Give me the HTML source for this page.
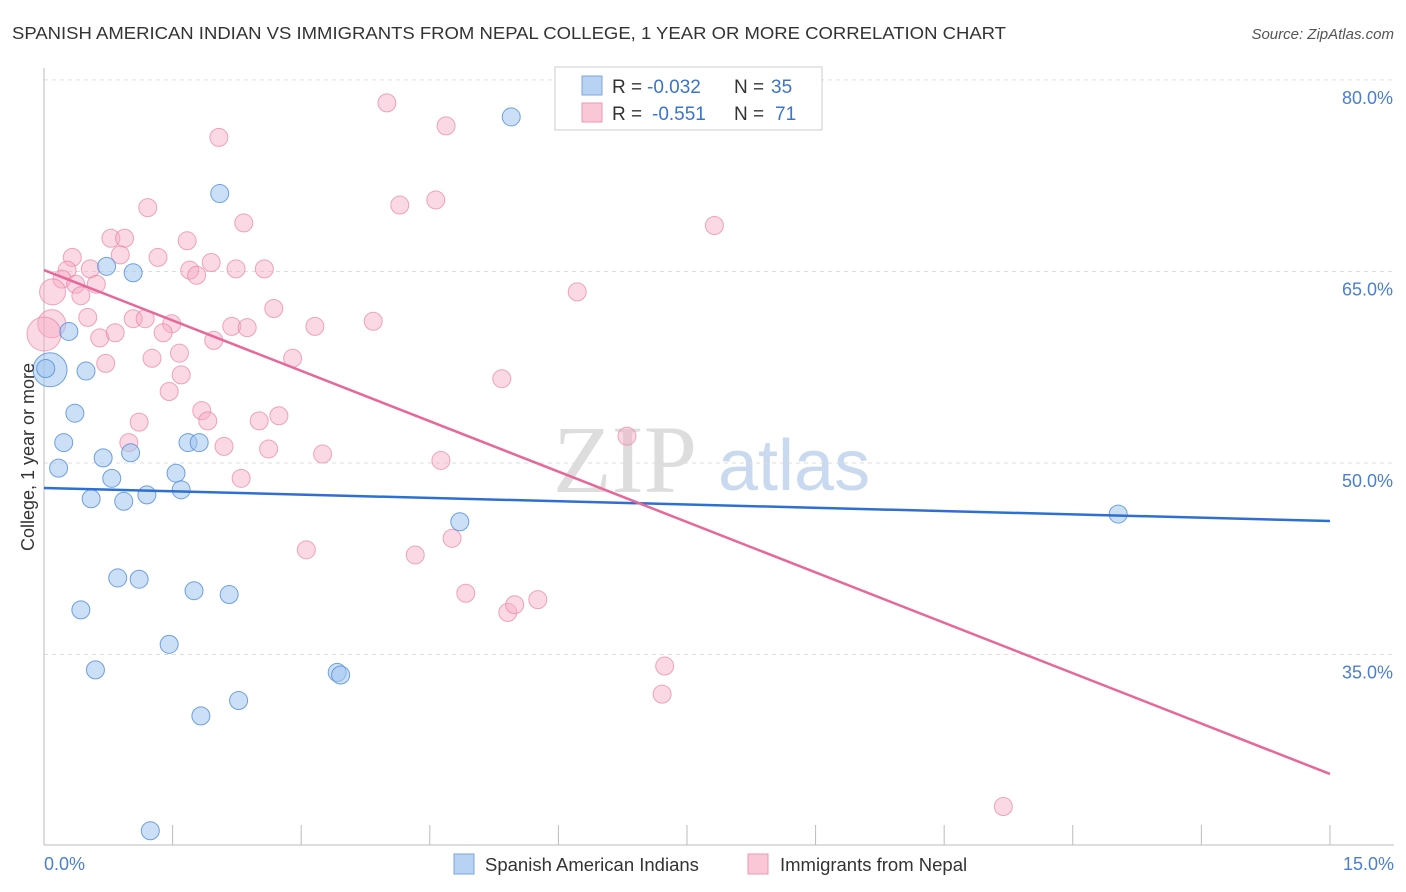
<!DOCTYPE html>
<html><head><meta charset="utf-8"><style>
body{margin:0;background:#fff;font-family:"Liberation Sans",sans-serif;}
svg{display:block}
</style></head><body>
<svg id="chart" width="1406" height="892" xmlns="http://www.w3.org/2000/svg">
<text x="12" y="39" font-size="17.5" fill="#333" textLength="994" lengthAdjust="spacingAndGlyphs">SPANISH AMERICAN INDIAN VS IMMIGRANTS FROM NEPAL COLLEGE, 1 YEAR OR MORE CORRELATION CHART</text>
<text x="1394" y="39" font-size="15" fill="#555" text-anchor="end" font-style="italic">Source: ZipAtlas.com</text>
<g>
<text x="553" y="492" font-size="96" fill="#ddd" font-family="Liberation Serif,serif">ZIP</text>
<text x="718" y="490" font-size="72" fill="#c9d9ef">atlas</text>
</g>
<g id="grid"></g>
<g id="axes"></g>
<g id="points"></g>
<g id="lines"></g>
<text transform="translate(34,457) rotate(-90)" font-size="18" fill="#333" text-anchor="middle">College, 1 year or more</text>
<text x="44" y="870" font-size="18" fill="#4a7fd0">0.0%</text>
<text x="1394" y="870" font-size="18" fill="#4a7fd0" text-anchor="end">15.0%</text>
<g>
<rect x="555" y="67" width="267" height="63" fill="#fff" stroke="#ccc"/>
<rect x="582" y="76" width="20" height="19" fill="#b8d2f4" stroke="#7aa4dd"/>
<rect x="582" y="103" width="20" height="19" fill="#f9c7d6" stroke="#eb9ab3"/>
<text x="612" y="93" font-size="19" fill="#333">R =</text>
<text x="647" y="93" font-size="19" fill="#3a73d0">-0.032</text>
<text x="734" y="93" font-size="19" fill="#333">N =</text>
<text x="771" y="93" font-size="19" fill="#3a73d0">35</text>
<text x="612" y="120" font-size="19" fill="#333">R =</text>
<text x="652" y="120" font-size="19" fill="#3a73d0">-0.551</text>
<text x="734" y="120" font-size="19" fill="#333">N =</text>
<text x="775" y="120" font-size="19" fill="#3a73d0">71</text>
</g>
<g>
<rect x="454" y="854" width="20" height="20" fill="#b8d2f4" stroke="#7aa4dd"/>
<text x="485" y="871" font-size="18.5" fill="#333">Spanish American Indians</text>
<rect x="748" y="854" width="20" height="20" fill="#f9c7d6" stroke="#eb9ab3"/>
<text x="780" y="871" font-size="18.5" fill="#333">Immigrants from Nepal</text>
</g>
</svg>
<script>
const yTicks=[35,50,65,80];
const xTicks=[0,1.5,3,4.5,6,7.5,9,10.5,12,13.5,15];
const blueX=[5.45,2.05,0.73,1.04,0.29,0.07,0.49,0.36,0.23,1.01,0.69,0.17,0.79,1.54,1.68,1.81,0.55,0.93,1.2,1.6,4.85,12.53,0.86,1.11,0.43,1.75,2.16,1.46,0.6,3.42,3.46,1.83,2.27,1.24,0.02];
const blueY=[77.1,71.1,65.4,64.9,60.3,57.3,57.2,53.9,51.6,50.8,50.4,49.6,48.8,49.2,51.6,51.6,47.2,47.0,47.5,47.9,45.4,46.0,41.0,40.9,38.5,40.0,39.7,35.8,33.8,33.6,33.4,30.2,31.4,21.2,57.4];
const blueR=[9,9,9,9,9,17,9,9,9,9,9,9,9,9,9,9,9,9,9,9,9,9,9,9,9,9,9,9,9,9,9,9,9,9,9];
const pinkX=[4.0,2.04,4.69,4.15,4.57,7.82,1.21,2.33,0.78,0.94,1.67,1.33,0.33,0.89,1.95,0.54,1.70,2.24,2.57,1.78,0.27,0.21,0.37,0.61,0.43,0.1,6.22,2.68,0.51,1.04,1.18,1.49,2.19,2.37,3.16,3.84,0.09,0.0,0.65,0.83,1.39,1.98,1.58,2.90,1.26,0.72,1.60,5.34,1.46,1.84,1.91,1.11,2.51,2.74,0.99,2.10,2.62,3.25,4.63,6.80,2.30,3.06,4.33,4.76,4.92,5.41,5.49,5.76,7.24,7.21,11.19];
const pinkY=[78.2,75.5,76.4,70.2,70.6,68.6,70.0,68.8,67.6,67.6,67.4,66.1,66.1,66.3,65.7,65.2,65.1,65.2,65.2,64.7,65.1,64.4,64.0,64.0,63.1,63.4,63.4,62.1,61.4,61.3,61.3,60.9,60.7,60.6,60.7,61.1,60.9,60.1,59.8,60.2,60.2,59.6,58.6,58.2,58.2,57.8,56.9,56.6,55.6,54.1,53.3,53.2,53.3,53.7,51.6,51.3,51.1,50.7,50.2,52.1,48.8,43.2,42.8,44.1,39.8,38.3,38.9,39.3,34.1,31.9,23.1];
const pinkR=[9,9,9,9,9,9,9,9,9,9,9,9,9,9,9,9,9,9,9,9,9,9,9,9,9,13,9,9,9,9,9,9,9,9,9,9,14,17,9,9,9,9,9,9,9,9,9,9,9,9,9,9,9,9,9,9,9,9,9,9,9,9,9,9,9,9,9,9,9,9,9];
const blueTrend=[48.04,45.46];
const pinkTrend=[65.11,25.65];
const X=v=>44+v*85.73, Y=v=>463-(v-50)*12.77;
const NS="http://www.w3.org/2000/svg";
function mk(t,a,p){const e=document.createElementNS(NS,t);for(const k in a)e.setAttribute(k,a[k]);p.appendChild(e);return e;}
const grid=document.getElementById('grid'),axes=document.getElementById('axes'),pts=document.getElementById('points'),lines=document.getElementById('lines');
yTicks.forEach(v=>{
 const l=mk('line',{x1:44,x2:1394,y1:Y(v),y2:Y(v),stroke:'#ddd','stroke-dasharray':'4,4'},grid);
 
 
 const t=mk('text',{x:1393,y:Y(v)+24,'font-size':18,fill:'#4a7fd0','text-anchor':'end'},grid);
 t.textContent=v.toFixed(1)+'%';
 
 
});
const ya=mk('line',{x1:44,x2:44,y1:68,y2:845,stroke:'#bbb'},axes);


const xa=mk('line',{x1:44,x2:1394,y1:845,y2:845,stroke:'#bbb'},axes);


xTicks.forEach(v=>{
 const t=mk('line',{x1:X(v),x2:X(v),y1:825,y2:845,stroke:'#bbb'},axes);
 
 
});
pinkX.forEach((x,i)=>{
 const c=mk('circle',{cx:X(x),cy:Y(pinkY[i]),r:pinkR[i],fill:'rgba(246,170,195,0.45)',stroke:'rgba(232,130,165,0.7)','stroke-width':1},pts);
 
 
});
blueX.forEach((x,i)=>{
 const c=mk('circle',{cx:X(x),cy:Y(blueY[i]),r:blueR[i],fill:'rgba(160,196,240,0.55)',stroke:'rgba(80,140,215,0.8)','stroke-width':1},pts);
 
 
});
const bl=mk('line',{x1:X(0),y1:Y(blueTrend[0]),x2:X(15),y2:Y(blueTrend[1]),stroke:'#2e6fd4','stroke-width':2.5},lines);


const pl=mk('line',{x1:X(0),y1:Y(pinkTrend[0]),x2:X(15),y2:Y(pinkTrend[1]),stroke:'#e8679a','stroke-width':2.5},lines);


</script>
</body></html>
